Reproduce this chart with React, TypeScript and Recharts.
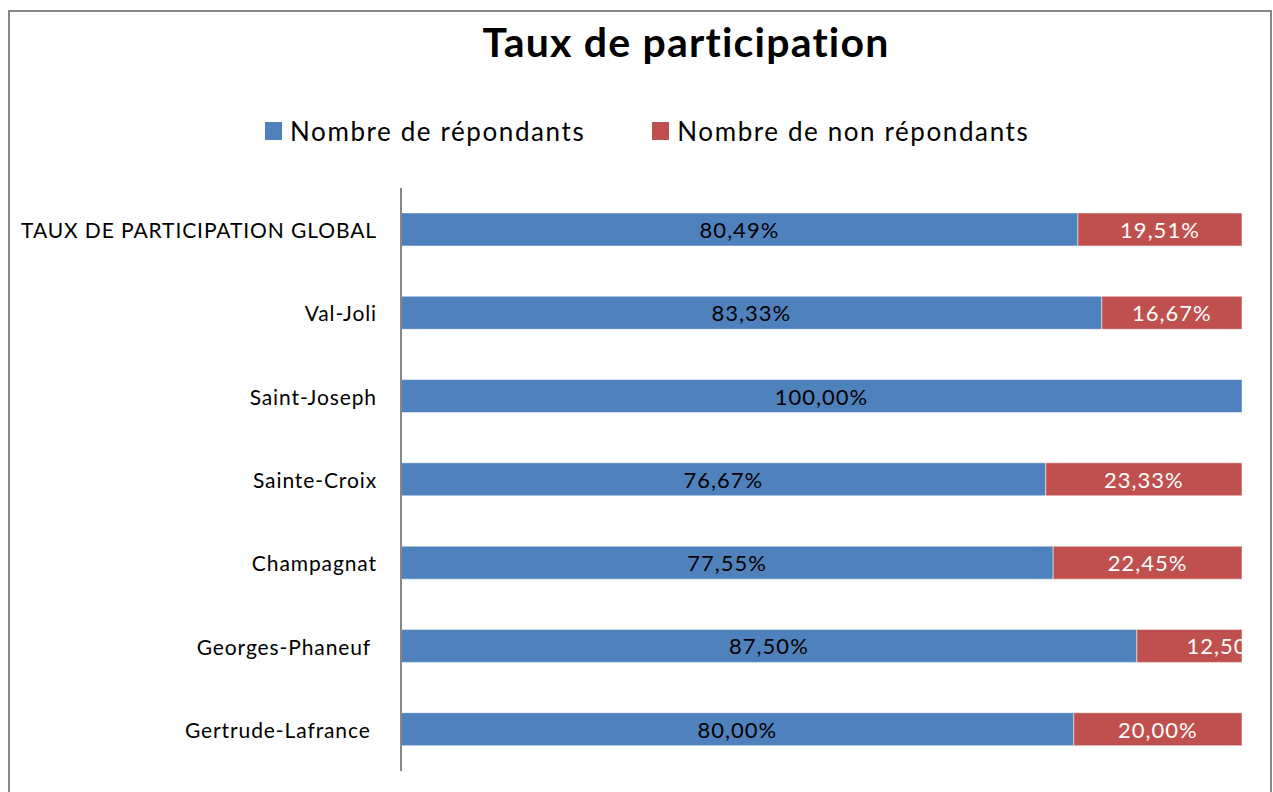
import React from 'react';
import { BarChart, Bar, XAxis, YAxis, Legend, LabelList } from 'recharts';

const categories = [
  'TAUX DE PARTICIPATION GLOBAL',
  'Val-Joli',
  'Saint-Joseph',
  'Sainte-Croix',
  'Champagnat',
  'Georges-Phaneuf ',
  'Gertrude-Lafrance ',
];
const repondants = [80.49, 83.33, 100.0, 76.67, 77.55, 87.5, 80.0];
const nonRepondants = [19.51, 16.67, 0, 23.33, 22.45, 12.5, 20.0];
const seriesNames = ['Nombre de répondants', 'Nombre de non répondants'];
const seriesColors = ['#4F81BD', '#C0504D'];
const labelColors = ['#000000', '#ffffff'];

const data = categories.map((name, i) => ({
  name,
  rep: repondants[i],
  nonrep: nonRepondants[i],
}));

const FONT = 'Lato, "Open Sans", sans-serif';

const fmt = (v: number) => v.toFixed(2).replace('.', ',') + '%';

const makeLabel = (color: string, id: string) => (props: any) => {
  const vb = props.viewBox || {};
  const x = Number(props.x ?? vb.x);
  const y = Number(props.y ?? vb.y);
  const width = Number(props.width ?? vb.width);
  const height = Number(props.height ?? vb.height);
  const value = Number(props.value);
  const index = props.index;
  if (!value || !isFinite(x) || !isFinite(width)) return null;
  const clipId = `clip-${id}-${index}`;
  const narrow = width < 110;
  const tx = narrow ? x + width / 2 - 3 : x + width / 2;
  return (
    <g>
      <defs>
        <clipPath id={clipId}>
          <rect x={x} y={y} width={width} height={height} />
        </clipPath>
      </defs>
      <text
        x={tx}
        y={y + height / 2}
        textAnchor={narrow ? 'start' : 'middle'}
        dominantBaseline="central"
        fill={color}
        fontSize={22}
        fontFamily={FONT}
        style={{ letterSpacing: 1.0 }}
        clipPath={`url(#${clipId})`}
      >
        {fmt(value)}
      </text>
    </g>
  );
};

const CategoryTick = (props: any) => {
  const { x, y, payload } = props;
  return (
    <text
      x={x - 16}
      y={y}
      textAnchor="end"
      dominantBaseline="central"
      fill="#000"
      fontSize={21}
      fontFamily={FONT}
      style={{ whiteSpace: 'pre', letterSpacing: 0.9 }}
    >
      {payload.value}
    </text>
  );
};

const LegendContent = () => (
  <div
    style={{
      display: 'flex',
      alignItems: 'center',
      paddingLeft: 265,
      gap: 67,
      fontFamily: FONT,
      fontSize: 26,
      letterSpacing: 1.6,
      lineHeight: '30px',
      color: '#000',
    }}
  >
    {seriesNames.map((n, i) => (
      <div key={n} style={{ display: 'flex', alignItems: 'center' }}>
        <span
          style={{
            display: 'inline-block',
            width: 17,
            height: 18,
            background: seriesColors[i],
            marginRight: 8,
          }}
        />
        <span>{n}</span>
      </div>
    ))}
  </div>
);

export default function App() {
  return (
    <div
      style={{
        position: 'absolute',
        left: 0,
        top: 0,
        width: 1273,
        height: 792,
        background: '#fff',
        overflow: 'hidden',
      }}
    >
      <div
        style={{
          position: 'absolute',
          left: 8,
          top: 10,
          width: 1260,
          height: 900,
          border: '2px solid #888888',
        }}
      />
      <div
        style={{
          position: 'absolute',
          left: 686,
          top: 18,
          transform: 'translateX(-50%)',
          fontFamily: FONT,
          fontWeight: 'bold',
          fontSize: 41,
          letterSpacing: 1.2,
          lineHeight: '48px',
          whiteSpace: 'nowrap',
          color: '#000',
        }}
      >
        Taux de participation
      </div>
      <div style={{ position: 'absolute', left: 0, top: 0 }}>
        <BarChart
          width={1273}
          height={792}
          data={data}
          layout="vertical"
          margin={{ top: 188, right: 31, bottom: 21, left: 0 }}
          barCategoryGap="30%"
        >
          <XAxis type="number" domain={[0, 100]} hide />
          <YAxis
            type="category"
            dataKey="name"
            width={401}
            axisLine={{ stroke: '#888888', strokeWidth: 2 }}
            tickLine={false}
            tick={<CategoryTick />}
            interval={0}
          />
          <Legend
            layout="horizontal"
            verticalAlign="middle"
            align="center"
            content={<LegendContent />}
            wrapperStyle={{ top: 116, left: 0, width: 1273 }}
          />
          <Bar
            dataKey="rep"
            name={seriesNames[0]}
            stackId="a"
            fill={seriesColors[0]}
            stroke="#ffffff"
            strokeOpacity={0.5}
            strokeWidth={1}
            isAnimationActive={false}
          >
            <LabelList dataKey="rep" content={makeLabel(labelColors[0], 'rep')} />
          </Bar>
          <Bar
            dataKey="nonrep"
            name={seriesNames[1]}
            stackId="a"
            fill={seriesColors[1]}
            stroke="#ffffff"
            strokeOpacity={0.5}
            strokeWidth={1}
            isAnimationActive={false}
          >
            <LabelList dataKey="nonrep" content={makeLabel(labelColors[1], 'nonrep')} />
          </Bar>
        </BarChart>
      </div>
    </div>
  );
}
